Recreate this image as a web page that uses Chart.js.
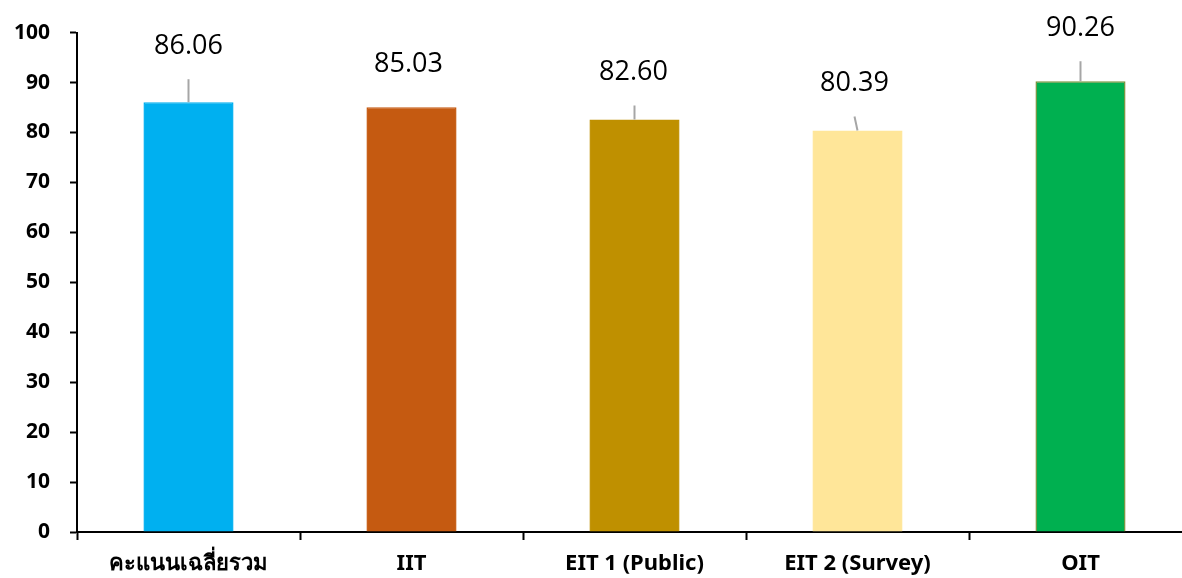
<!DOCTYPE html>
<html>
<head>
<meta charset="utf-8">
<script src="https://cdn.jsdelivr.net/npm/chart.js@4/dist/chart.umd.min.js"></script>
<style>
html, body { margin: 0; padding: 0; background: #fff; overflow: hidden; }
#wrap { position: relative; width: 1195px; height: 578px; }
</style>
</head>
<body>
<div id="wrap"><canvas id="scoreChart"></canvas></div>
<script>
var categories = ['คะแนนเฉลี่ยรวม', 'IIT', 'EIT 1 (Public)', 'EIT 2 (Survey)', 'OIT'];
var scores = [86.06, 85.03, 82.60, 80.39, 90.26];
var yTicks = [0, 10, 20, 30, 40, 50, 60, 70, 80, 90, 100];

var barColors = ['#00b0f0', '#c55a11', '#bf9000', '#ffe699', '#00b050'];
var barBorders = ['#00b0f0', '#c55a11', '#bf9000', '#ffe699', '#77933c'];
// label placement (px above bar top), horizontal nudge, leader length
var labelLift = [56, 43.5, 47, 47.5, 53];
var labelShift = [0, -3, -1, -3, 0];
var leaderLen = [23, 0, 14, 14, 20];
var leaderLean = [0, 0, 0, -3, 0];

var axisFont = '"Noto Sans", "DejaVu Sans", sans-serif';

var barLabels = {
    id: 'barLabels',
    afterDatasetsDraw: function (chart) {
        var ctx = chart.ctx;
        var meta = chart.getDatasetMeta(0);
        ctx.save();
        meta.data.forEach(function (bar, i) {
            var top = bar.y;
            if (leaderLen[i] > 0) {
                ctx.beginPath();
                ctx.strokeStyle = '#a6a6a6';
                ctx.lineWidth = 2;
                ctx.moveTo(bar.x, top);
                ctx.lineTo(bar.x + leaderLean[i], top - leaderLen[i]);
                ctx.stroke();
            }
            ctx.fillStyle = '#000';
            ctx.font = '27px "Open Sans", "Liberation Sans", sans-serif';
            ctx.textAlign = 'center';
            ctx.textBaseline = 'middle';
            ctx.fillText(scores[i].toFixed(2), bar.x + labelShift[i], top - labelLift[i]);
        });
        ctx.restore();
    }
};

new Chart(document.getElementById('scoreChart'), {
    type: 'bar',
    data: {
        labels: categories,
        datasets: [{
            data: scores,
            backgroundColor: barColors,
            borderColor: barBorders,
            borderWidth: 1.5,
            categoryPercentage: 1,
            barPercentage: 0.404
        }]
    },
    options: {
        responsive: true,
        maintainAspectRatio: false,
        animation: false,
        layout: { padding: { top: 32, right: 3, bottom: 0, left: 0 } },
        plugins: { legend: { display: false }, tooltip: { enabled: false } },
        scales: {
            x: {
                offset: true,
                afterFit: function (s) { s.height = 46; },
                grid: { offset: true, drawOnChartArea: false, drawTicks: true, tickLength: 8, tickWidth: 2, tickColor: '#000' },
                border: { display: true, color: '#000', width: 2 },
                ticks: { color: '#000', padding: 11, font: { family: axisFont, size: 22, weight: 'bold' } }
            },
            y: {
                min: 0,
                max: 100,
                afterFit: function (s) { s.width = 77; },
                afterBuildTicks: function (s) { s.ticks = yTicks.map(function (v) { return { value: v }; }); },
                grid: { drawOnChartArea: false, drawTicks: true, tickLength: 7, tickWidth: 2, tickColor: '#000' },
                border: { display: true, color: '#000', width: 2 },
                ticks: { color: '#000', padding: 20, font: { family: axisFont, size: 21, weight: 'bold' } }
            }
        }
    },
    plugins: [barLabels]
});
</script>
</body>
</html>
